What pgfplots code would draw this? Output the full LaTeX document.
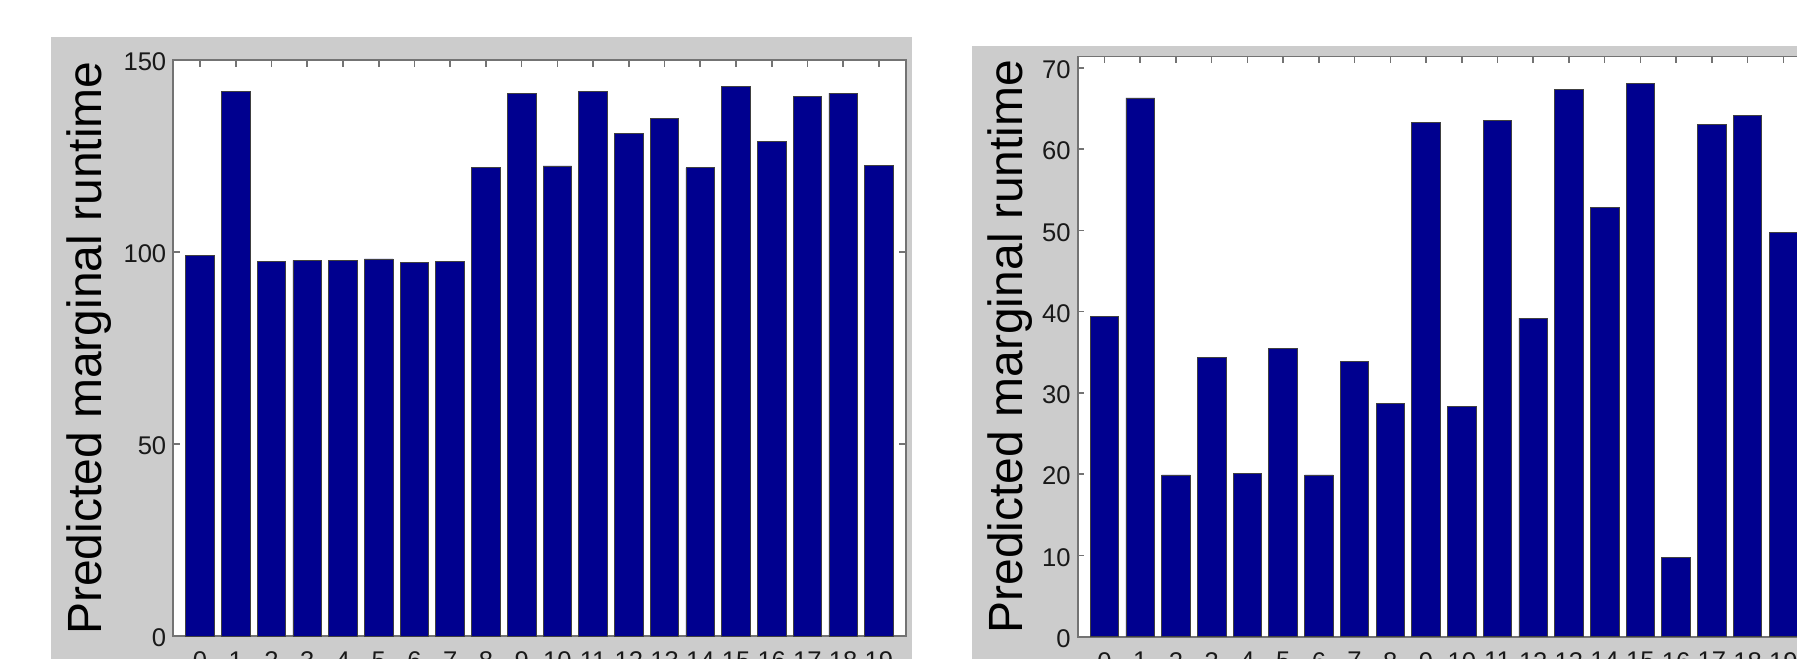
\documentclass[border=0pt]{standalone}
\usepackage{fontspec}
\setmainfont{Liberation Sans}
\usepackage{pgfplots}
\pgfplotsset{compat=1.18}
\definecolor{barblue}{RGB}{0,0,143}
\definecolor{figgray}{RGB}{204,204,204}
\pgfplotsset{
  mybar/.style={
    ybar, bar width=0.8, bar shift=0pt,
    scale only axis,
    width=366.2pt,
    xmin=-0.75, xmax=19.75,
    ymin=0,
    xtick={0,...,19},
    minor tick num=0,
    tick align=inside,
    xtick align=inside, ytick align=inside,
    tick pos=both,
    major tick length=3.3pt,
    axis background/.style={fill=white},
    axis line style={draw=black!55, line width=0.9pt},
    every tick/.style={draw=black!55, line width=0.8pt},
    /pgf/number format/assume math mode=true,
    tick label style={font=\fontsize{12.8}{15}\selectfont, text=black!90},
    xticklabel style={yshift=-4.3pt},
    yticklabel style={yshift=-1pt},
    label style={font=\fontsize{24}{28}\selectfont},
  },
  barstyle/.style={fill=barblue, draw=black!75, line width=0.4pt},
}
\begin{document}
\begin{tikzpicture}
\path[use as bounding box] (0,0) rectangle (898.5pt,329pt);
\clip (0,0) rectangle (898.5pt,329pt);
\fill[figgray] (25.5pt,-2pt) rectangle (456pt,310.65pt);
\fill[figgray] (485.85pt,-2pt) rectangle (902pt,306.15pt);

\begin{axis}[mybar,
  at={(86.65pt,11pt)}, anchor=south west,
  height=288pt,
  ymax=150,
  ytick={0,50,100,150},
  ylabel={Predicted marginal runtime},
  ylabel style={at={(axis description cs:-0.0987,0.5)}, anchor=base},
]
\addplot[barstyle] coordinates {
(0,99.2) (1,141.8) (2,97.6) (3,97.8) (4,97.8) (5,98.2) (6,97.3) (7,97.6)
(8,121.9) (9,141.4) (10,122.4) (11,141.8) (12,130.8) (13,134.8) (14,121.9)
(15,143.2) (16,128.7) (17,140.5) (18,141.4) (19,122.6)
};
\end{axis}

\begin{axis}[mybar,
  at={(538.85pt,10.65pt)}, anchor=south west,
  height=290.1pt,
  ymax=71.4,
  ytick={0,10,...,70},
  ylabel={Predicted marginal runtime},
  ylabel style={at={(axis description cs:-0.076,0.5)}, anchor=base},
]
\addplot[barstyle] coordinates {
(0,39.4) (1,66.3) (2,19.9) (3,34.4) (4,20.1) (5,35.5) (6,19.9) (7,33.9)
(8,28.7) (9,63.3) (10,28.3) (11,63.5) (12,39.2) (13,67.3) (14,52.8)
(15,68.1) (16,9.8) (17,63.0) (18,64.2) (19,49.8)
};
\end{axis}
\end{tikzpicture}
\end{document}
